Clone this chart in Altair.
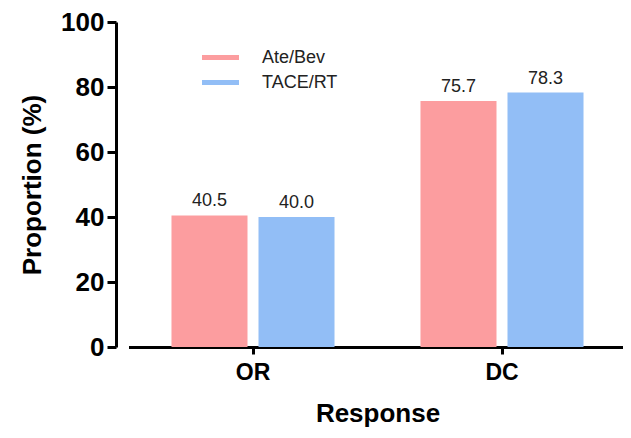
import altair as alt
import pandas as pd

categories = ["OR", "OR", "DC", "DC"]
groups = ["Ate/Bev", "TACE/RT", "Ate/Bev", "TACE/RT"]
values = [40.5, 40.0, 75.7, 78.3]
value_labels = ["40.5", "40.0", "75.7", "78.3"]
y_ticks = [0, 20, 40, 60, 80, 100]
group_order = ["Ate/Bev", "TACE/RT"]
colors = ["#FC9D9F", "#92BEF6"]

df = pd.DataFrame({"Response": categories, "Group": groups,
                   "Value": values, "Label": value_labels})

FONT = "Liberation Sans"

x_enc = alt.X("Response:N", sort=["OR", "DC"],
              scale=alt.Scale(range=[12.5, 510.5], paddingInner=0, paddingOuter=0),
              axis=alt.Axis(title="Response", labelAngle=0, labelFontSize=23,
                            labelFontWeight="bold", labelColor="black", labelFont=FONT,
                            labelPadding=7, tickSize=7, tickWidth=3, tickColor="black",
                            domainWidth=3, domainColor="black",
                            titleFontSize=26, titleFontWeight="bold", titleFont=FONT,
                            titleColor="black", titlePadding=16))
xo_enc = alt.XOffset("Group:N", sort=group_order,
                     scale=alt.Scale(paddingInner=0.1264, paddingOuter=0.494))
y_enc = alt.Y("Value:Q", scale=alt.Scale(domain=[0, 100], nice=False),
              axis=alt.Axis(title="Proportion (%)", values=y_ticks, grid=False,
                            labelFontSize=26, labelFontWeight="bold", labelColor="black",
                            labelFont=FONT, labelPadding=3, tickSize=9, tickWidth=3,
                            tickColor="black", domainWidth=3, domainColor="black",
                            titleFontSize=26, titleFontWeight="bold", titleFont=FONT,
                            titleColor="black", titlePadding=15))

base = alt.Chart(df).encode(x=x_enc, xOffset=xo_enc, y=y_enc)

bars = base.mark_bar().encode(
    color=alt.Color("Group:N", sort=group_order,
                    scale=alt.Scale(domain=group_order, range=colors),
                    legend=alt.Legend(title=None, orient="none", legendX=95, legendY=26,
                                      symbolType="M-2,-0.28H2V0.28H-2Z", symbolSize=342,
                                      symbolStrokeWidth=0, labelFontSize=18,
                                      labelFont=FONT, labelColor="#222222",
                                      labelOffset=32, rowPadding=6, symbolOpacity=1))
)

text = base.mark_text(baseline="alphabetic", dy=-9, fontSize=18, font=FONT,
                      color="#222222").encode(text="Label:N")

chart = (bars + text).properties(
    width=507, height=325,
    autosize=alt.AutoSizeParams(type="none"),
    padding={"left": 108, "top": 14, "right": 0, "bottom": 83},
    background="white",
).configure_view(stroke=None)

chart.save("out.html", embed_options={"renderer": "svg", "actions": False})
